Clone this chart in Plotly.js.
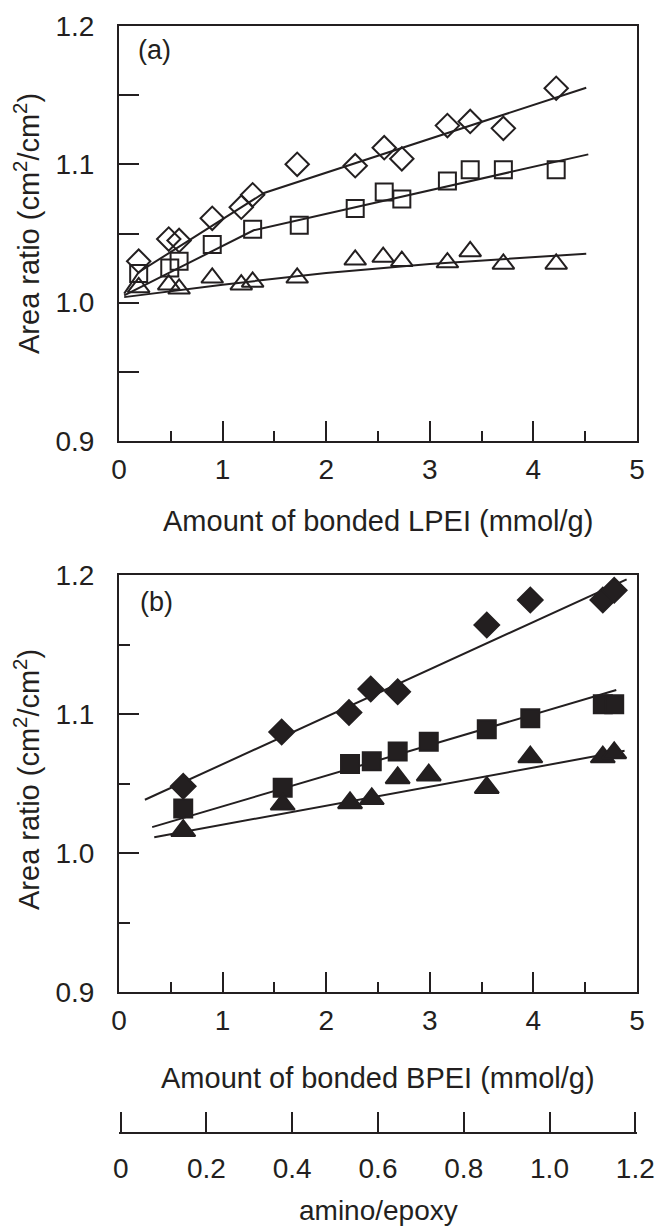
<!DOCTYPE html>
<html>
<head>
<meta charset="utf-8">
<script src="https://cdn.plot.ly/plotly-3.0.1.min.js"></script>
<style>
  html, body { margin: 0; padding: 0; background: #fff; }
  #chart { width: 655px; height: 1227px; }
</style>
</head>
<body>
<div id="chart"></div>
<script>
// ---------- Panel (a): LPEI (open symbols) ----------
const lpeiDiamondX = [0.19, 0.48, 0.58, 0.90, 1.18, 1.29, 1.72, 2.28, 2.56, 2.73, 3.17, 3.39, 3.71, 4.22];
const lpeiDiamondY = [1.030, 1.046, 1.045, 1.061, 1.069, 1.078, 1.100, 1.099, 1.112, 1.104, 1.128, 1.131, 1.126, 1.155];

const lpeiSquareX = [0.19, 0.49, 0.58, 0.90, 1.29, 1.74, 2.28, 2.56, 2.73, 3.17, 3.39, 3.71, 4.22];
const lpeiSquareY = [1.021, 1.025, 1.030, 1.042, 1.053, 1.056, 1.068, 1.080, 1.075, 1.088, 1.096, 1.096, 1.096];

const lpeiTriangleX = [0.19, 0.48, 0.58, 0.90, 1.18, 1.29, 1.72, 2.28, 2.55, 2.73, 3.17, 3.39, 3.71, 4.22];
const lpeiTriangleY = [1.011, 1.013, 1.010, 1.018, 1.013, 1.015, 1.018, 1.031, 1.033, 1.030, 1.029, 1.037, 1.028, 1.028];

// fitted curves, panel (a)
const lpeiDiamondFitX = [0.05, 0.19, 1.40, 4.51];
const lpeiDiamondFitY = [1.0065, 1.022, 1.0793, 1.1554];
const lpeiSquareFitX = [0.05, 1.30, 4.53];
const lpeiSquareFitY = [1.0053, 1.0523, 1.1072];
const lpeiTriangleFitX = [0.05, 0.5, 1.0, 2.0, 3.0, 4.51];
const lpeiTriangleFitY = [1.004, 1.0085, 1.013, 1.0215, 1.028, 1.0354];

// ---------- Panel (b): BPEI (filled symbols) ----------
const bpeiDiamondX = [0.62, 1.57, 2.22, 2.43, 2.69, 3.55, 3.97, 4.67, 4.78];
const bpeiDiamondY = [1.048, 1.087, 1.101, 1.118, 1.116, 1.164, 1.182, 1.182, 1.189];

const bpeiSquareX = [0.62, 1.58, 2.23, 2.44, 2.69, 2.99, 3.55, 3.97, 4.67, 4.78];
const bpeiSquareY = [1.032, 1.047, 1.064, 1.066, 1.073, 1.080, 1.089, 1.097, 1.107, 1.107];

const bpeiTriangleX = [0.62, 1.58, 2.23, 2.44, 2.69, 2.99, 3.55, 3.97, 4.67, 4.78];
const bpeiTriangleY = [1.016, 1.035, 1.036, 1.039, 1.054, 1.056, 1.047, 1.069, 1.069, 1.072];

// fitted lines, panel (b)
const bpeiDiamondFitX = [0.25, 4.90];
const bpeiDiamondFitY = [1.0383, 1.1969];
const bpeiSquareFitX = [0.32, 4.80];
const bpeiSquareFitY = [1.0186, 1.1173];
const bpeiTriangleFitX = [0.34, 4.88];
const bpeiTriangleFitY = [1.0113, 1.0735];

// ---------- axis ticks ----------
const amountTicks = [0, 1, 2, 3, 4, 5];
const amountTickText = ['0', '1', '2', '3', '4', '5'];
const ratioTicks = [0.9, 1.0, 1.1, 1.2];
const ratioTickText = ['0.9', '1.0', '1.1', '1.2'];
const ratioMinorTicks = [0.95, 1.05, 1.15];
const aminoTicks = [0, 0.2, 0.4, 0.6, 0.8, 1.0, 1.2];
const aminoTickText = ['0', '0.2', '0.4', '0.6', '0.8', '1.0', '1.2'];
const aminoRange = [0, 1.2];

const INK = '#231f20';
const FONT = 'Liberation Sans, Arial, Helvetica, sans-serif';

function pts(x, y, sym, size, xa, ya) {
  return { x: x, y: y, xaxis: xa, yaxis: ya, mode: 'markers', type: 'scatter',
    marker: { symbol: sym, size: size, color: INK, line: { color: INK, width: 2 } },
    showlegend: false, hoverinfo: 'x+y' };
}
function fit(x, y, xa, ya) {
  return { x: x, y: y, xaxis: xa, yaxis: ya, mode: 'lines', type: 'scatter',
    line: { color: INK, width: 2 }, showlegend: false, hoverinfo: 'skip' };
}

const traces = [
  fit(lpeiDiamondFitX, lpeiDiamondFitY, 'x', 'y'),
  fit(lpeiSquareFitX, lpeiSquareFitY, 'x', 'y'),
  fit(lpeiTriangleFitX, lpeiTriangleFitY, 'x', 'y'),
  pts(lpeiDiamondX, lpeiDiamondY, 'diamond-open', 18, 'x', 'y'),
  pts(lpeiSquareX, lpeiSquareY, 'square-open', 17, 'x', 'y'),
  pts(lpeiTriangleX, lpeiTriangleY, 'triangle-up-open', 19, 'x', 'y'),
  fit(bpeiDiamondFitX, bpeiDiamondFitY, 'x2', 'y2'),
  fit(bpeiSquareFitX, bpeiSquareFitY, 'x2', 'y2'),
  fit(bpeiTriangleFitX, bpeiTriangleFitY, 'x2', 'y2'),
  pts(bpeiDiamondX, bpeiDiamondY, 'diamond', 19, 'x2', 'y2'),
  pts(bpeiSquareX, bpeiSquareY, 'square', 18, 'x2', 'y2'),
  pts(bpeiTriangleX, bpeiTriangleY, 'triangle-up', 21, 'x2', 'y2'),
  // carrier for the amino/epoxy scale (draws nothing itself)
  { x: aminoRange, y: [0, 0], xaxis: 'x3', yaxis: 'y3', mode: 'none', type: 'scatter',
    showlegend: false, hoverinfo: 'skip' }
];

const tickFont = { family: FONT, size: 28, color: INK };
const titleSize = 29;

function xAxis(anchor) {
  return {
    anchor: anchor, domain: [0, 1], range: [0, 5],
    showline: true, mirror: true, linecolor: INK, linewidth: 2,
    showgrid: false, zeroline: false,
    tickmode: 'array', tickvals: amountTicks, ticktext: amountTickText,
    ticks: 'inside', ticklen: 20, tickwidth: 2, tickcolor: INK,
    minor: { dtick: 0.5, ticks: 'inside', ticklen: 10, tickwidth: 2, tickcolor: INK, showgrid: false },
    tickfont: tickFont, ticklabelstandoff: 2, ticklabeloverflow: 'allow'
  };
}
function yAxis(anchor, domain, minorLen) {
  return {
    anchor: anchor, domain: domain, range: [0.9, 1.2],
    showline: true, mirror: true, linecolor: INK, linewidth: 2,
    showgrid: false, zeroline: false,
    tickmode: 'array', tickvals: ratioTicks, ticktext: ratioTickText,
    ticks: 'inside', ticklen: 20, tickwidth: 2, tickcolor: INK,
    minor: { tickvals: ratioMinorTicks, ticks: 'inside', ticklen: minorLen, tickwidth: 2, tickcolor: INK, showgrid: false },
    tickfont: tickFont, ticklabelstandoff: 17, ticklabeloverflow: 'allow'
  };
}

const W = 655, H = 1227;
const mL = 119, mR = 18, mT = 26, mB = 95;
const plotH = H - mT - mB;
function py(pix) { return (H - mB - pix) / plotH; }   // pixel row -> paper y
function px(pix) { return (pix - mL) / (W - mL - mR); }

const layout = {
  width: W, height: H,
  margin: { l: mL, r: mR, t: mT, b: mB, pad: 0 },
  paper_bgcolor: '#fff', plot_bgcolor: 'rgba(0,0,0,0)',
  font: { family: FONT, color: INK, size: 28 },
  xaxis: xAxis('y'),
  yaxis: yAxis('x', [py(441), 1], 20),
  xaxis2: xAxis('y2'),
  yaxis2: yAxis('x2', [py(992), py(575)], 11),
  xaxis3: {
    anchor: 'y3', domain: [0, 1], range: [aminoRange[0] - 0.004, aminoRange[1] + 0.004],
    showline: true, linecolor: INK, linewidth: 2, mirror: false,
    showgrid: false, zeroline: false,
    tickmode: 'array', tickvals: aminoTicks, ticktext: aminoTickText,
    ticks: 'inside', ticklen: 20, tickwidth: 2, tickcolor: INK,
    tickfont: tickFont, ticklabelstandoff: 10, ticklabeloverflow: 'allow'
  },
  yaxis3: { anchor: 'x3', domain: [0, 0.01], visible: false, range: [0, 1], fixedrange: true },
  annotations: [
    { text: 'Area ratio (cm<sup>2</sup>/cm<sup>2</sup>)', xref: 'paper', yref: 'paper',
      x: px(27), y: py(224), xanchor: 'center', yanchor: 'middle', textangle: -90,
      showarrow: false, font: { family: FONT, size: titleSize, color: INK } },
    { text: 'Area ratio (cm<sup>2</sup>/cm<sup>2</sup>)', xref: 'paper', yref: 'paper',
      x: px(27), y: py(780), xanchor: 'center', yanchor: 'middle', textangle: -90,
      showarrow: false, font: { family: FONT, size: titleSize, color: INK } },
    { text: 'Amount of bonded LPEI (mmol/g)', xref: 'paper', yref: 'paper',
      x: px(378), y: py(521), xanchor: 'center', yanchor: 'middle',
      showarrow: false, font: { family: FONT, size: titleSize, color: INK } },
    { text: 'Amount of bonded BPEI (mmol/g)', xref: 'paper', yref: 'paper',
      x: px(378), y: py(1078), xanchor: 'center', yanchor: 'middle',
      showarrow: false, font: { family: FONT, size: titleSize, color: INK } },
    { text: 'amino/epoxy', xref: 'paper', yref: 'paper',
      x: px(378), y: py(1210), xanchor: 'center', yanchor: 'middle',
      showarrow: false, font: { family: FONT, size: 28, color: INK } },
    { text: '(a)', xref: 'paper', yref: 'paper',
      x: px(154), y: py(50), xanchor: 'center', yanchor: 'middle',
      showarrow: false, font: { family: FONT, size: 27, color: INK } },
    { text: '(b)', xref: 'paper', yref: 'paper',
      x: px(156), y: py(602), xanchor: 'center', yanchor: 'middle',
      showarrow: false, font: { family: FONT, size: 27, color: INK } }
  ]
};

Plotly.newPlot('chart', traces, layout, { staticPlot: true, displayModeBar: false });
</script>
</body>
</html>
